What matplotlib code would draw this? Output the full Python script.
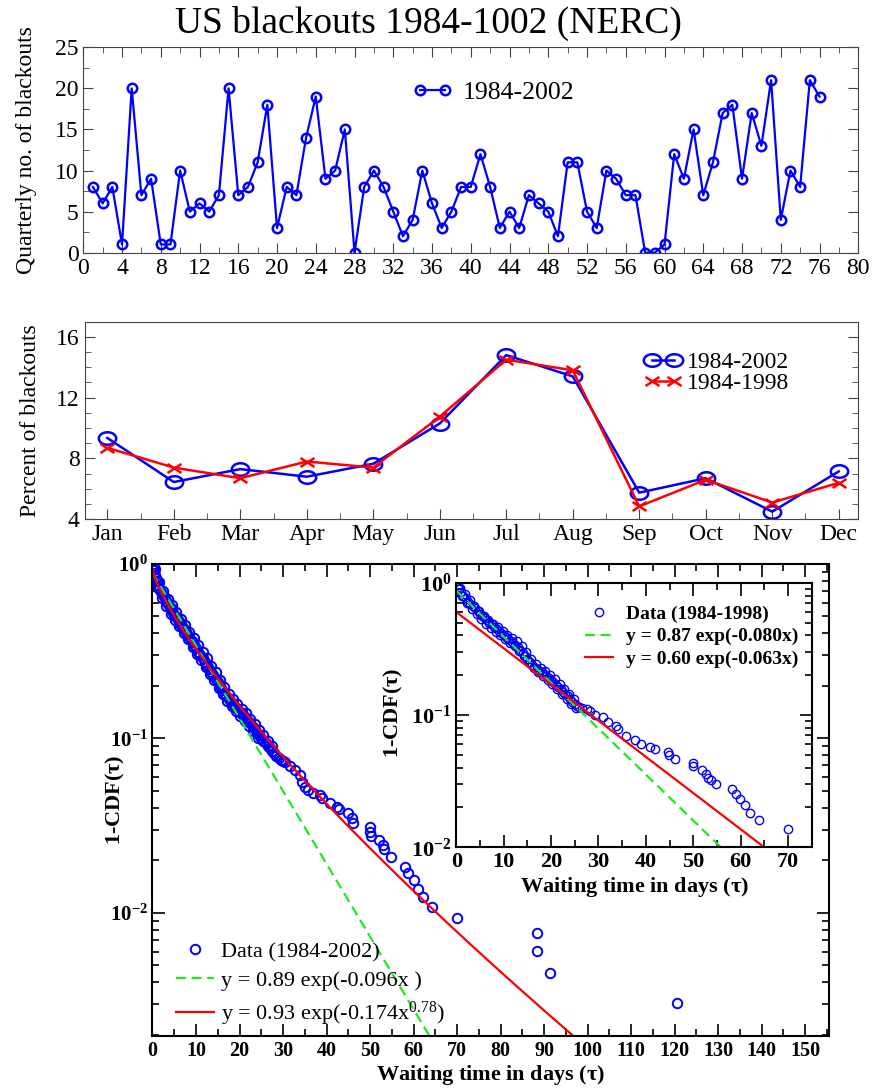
import numpy as np
import matplotlib
matplotlib.use('Agg')
import matplotlib.pyplot as plt
from matplotlib.path import Path
from matplotlib.ticker import MultipleLocator, FuncFormatter, NullFormatter, LogLocator

plt.rcParams['font.family'] = ['Liberation Serif', 'DejaVu Serif']
plt.rcParams['mathtext.fontset'] = 'custom'
plt.rcParams['mathtext.rm'] = 'Liberation Serif'
plt.rcParams['mathtext.it'] = 'Liberation Serif:italic'
plt.rcParams['mathtext.bf'] = 'Liberation Serif:bold'

# quarterly counts 1984-2002
quarters = list(range(1, 77))
quarterly_counts = [8, 6, 8, 1, 20, 7, 9, 1, 1, 10, 5, 6, 5, 7, 20, 7, 8, 11, 18, 3,
                    8, 7, 14, 19, 9, 10, 15, 0, 8, 10, 8, 5, 2, 4, 10, 6, 3, 5, 8, 8,
                    12, 8, 3, 5, 3, 7, 6, 5, 2, 11, 11, 5, 3, 10, 9, 7, 7, 0, 0, 1,
                    12, 9, 15, 7, 11, 17, 18, 9, 17, 13, 21, 4, 10, 8, 21, 19]

# monthly percentages
months = ['Jan', 'Feb', 'Mar', 'Apr', 'May', 'Jun', 'Jul', 'Aug', 'Sep', 'Oct', 'Nov', 'Dec']
pct_1984_2002 = [9.35, 6.45, 7.3, 6.8, 7.65, 10.3, 14.8, 13.4, 5.75, 6.7, 4.5, 7.15]
pct_1984_1998 = [8.7, 7.4, 6.7, 7.8, 7.4, 10.75, 14.5, 13.8, 4.85, 6.6, 5.1, 6.4]

# waiting time distribution 1984-2002 (band centre, then tail)
wait_2002 = [0.2, 0.4, 0.6, 0.8, 1.0, 1.3, 1.6, 2.0, 2.4, 2.8, 3.2, 3.6, 4.0, 4.4, 4.8,
             5.2, 5.6, 6.0, 6.4, 6.8, 7.2, 7.6, 8.0, 8.4, 8.8, 9.2, 9.6, 10.0, 10.5, 11.0,
             11.5, 12.0, 12.5, 13.0, 13.5, 14.0, 14.5, 15.0, 15.5, 16.0, 16.5, 17.0, 17.5,
             18.0, 18.5, 19.0, 19.5, 20.0, 20.5, 21.0, 21.5, 22.0, 22.5, 23.0, 23.5, 24.0,
             24.5, 25.0, 25.5, 26.0, 26.5, 27.0, 27.5, 28.0, 28.5, 29.0, 29.5, 30.0,
             30.5, 31.6, 32.8, 33.9, 34.3, 35.1, 35.8, 36.9, 38.5, 38.9, 40.8, 42.3, 42.9,
             45.0, 45.8, 46.2, 50.0, 50.0, 50.2, 52.1, 52.9, 53.2, 54.9, 58.0, 58.8, 60.0,
             61.1, 62.1, 64.2, 69.9, 88.3, 88.3, 91.4, 120.5]
cdf_2002 = [0.92, 0.89, 0.86, 0.83, 0.80, 0.76, 0.73, 0.69, 0.665, 0.64, 0.61, 0.59, 0.57,
            0.55, 0.525, 0.505, 0.49, 0.47, 0.455, 0.44, 0.425, 0.41, 0.395, 0.38, 0.365,
            0.355, 0.345, 0.33, 0.315, 0.30, 0.29, 0.275, 0.265, 0.25, 0.24, 0.23, 0.22,
            0.21, 0.20, 0.19, 0.183, 0.175, 0.168, 0.162, 0.157, 0.152, 0.147, 0.142,
            0.138, 0.134, 0.13, 0.126, 0.122, 0.117, 0.113, 0.108, 0.104, 0.100, 0.097,
            0.094, 0.091, 0.088, 0.085, 0.082, 0.079, 0.077, 0.075, 0.074,
            0.0736, 0.0699, 0.066, 0.0617, 0.0565, 0.053, 0.0507, 0.049, 0.0474, 0.0454,
            0.0425, 0.0405, 0.0393, 0.0372, 0.0349, 0.0327, 0.0312, 0.0292, 0.0276,
            0.0262, 0.0245, 0.0232, 0.021, 0.0184, 0.0169, 0.0155, 0.0138, 0.0123,
            0.0108, 0.0093, 0.00765, 0.00608, 0.00455, 0.00304]
# points on the upper and lower edges of the dense band
wait_2002_edge = [0.1, 0.3, 0.5, 1.5, 2.5, 3.5, 4.5, 5.5, 6.5, 7.5, 8.5, 9.5, 10.5, 11.5,
                  12.5, 13.5, 14.5, 15.5, 16.5, 17.5, 18.5, 19.5, 20.5, 21.5, 22.5, 23.5,
                  24.5, 25.5, 26.5, 27.5,
                  1.2, 2.2, 3.2, 4.2, 5.2, 6.2, 7.2, 8.2, 9.2, 10.2, 11.2, 12.2, 13.2,
                  14.2, 15.2, 16.2, 17.2, 18.2, 19.2, 20.2, 21.2, 22.2, 23.2, 24.2]
cdf_2002_edge = [0.97, 0.95, 0.93, 0.79, 0.70, 0.63, 0.58, 0.53, 0.485, 0.445, 0.41, 0.375,
                 0.345, 0.315, 0.29, 0.26, 0.24, 0.215, 0.197, 0.18, 0.168, 0.157, 0.147,
                 0.139, 0.13, 0.121, 0.112, 0.104, 0.097, 0.091,
                 0.73, 0.64, 0.575, 0.52, 0.475, 0.44, 0.40, 0.37, 0.335, 0.305, 0.28,
                 0.258, 0.235, 0.215, 0.195, 0.18, 0.165, 0.153, 0.143, 0.134, 0.126,
                 0.118, 0.11, 0.101]

# waiting time distribution 1984-1998 (inset)
wait_1998 = [0.3, 0.6, 1.0, 1.5, 2.0, 2.5, 3.0, 3.5, 4.0, 4.5, 5.0, 5.5, 6.0, 6.5, 7.0,
             7.5, 8.0, 8.5, 9.0, 9.5, 10.0, 10.5, 11.0, 11.5, 12.0, 12.5, 13.0, 13.5,
             14.0, 14.5, 15.0, 15.5, 16.0, 16.5, 17.0, 17.5, 18.0, 18.5, 19.0, 19.5,
             20.0, 20.5, 21.0, 21.5, 22.0, 22.5, 23.0, 23.5, 24.0, 24.5, 25.0, 25.5,
             26.0, 26.5, 27.5, 28.2, 29.2, 30.9, 32.0, 33.8, 34.2, 35.9, 37.7, 38.9,
             40.8, 41.9, 44.7, 44.9, 46.1, 50.0, 50.0, 51.9, 52.8, 53.1, 53.8, 54.9,
             58.1, 59.0, 59.8, 60.9, 61.9, 63.9, 69.9]
cdf_1998 = [0.93, 0.89, 0.85, 0.80, 0.76, 0.72, 0.69, 0.665, 0.64, 0.61, 0.585, 0.56,
            0.54, 0.52, 0.50, 0.485, 0.465, 0.45, 0.435, 0.42, 0.405, 0.39, 0.375, 0.36,
            0.35, 0.34, 0.325, 0.31, 0.295, 0.28, 0.265, 0.25, 0.24, 0.232, 0.224,
            0.216, 0.21, 0.203, 0.197, 0.19, 0.183, 0.177, 0.17, 0.163, 0.157, 0.15,
            0.144, 0.138, 0.132, 0.126, 0.121, 0.117, 0.114, 0.112, 0.111, 0.1066,
            0.1007, 0.0963, 0.0878, 0.083, 0.0785, 0.069, 0.0648, 0.0604, 0.0577,
            0.055, 0.0525, 0.0495, 0.0467, 0.0437, 0.0411, 0.0385, 0.036, 0.0336,
            0.0321, 0.0299, 0.0275, 0.0253, 0.023, 0.0207, 0.0183, 0.016, 0.0138]
wait_1998_edge = [0.8, 1.8, 2.8, 3.8, 4.8, 5.8, 6.8, 7.8, 8.8, 9.8, 10.8, 11.8, 12.8, 13.8,
                  14.8, 15.8, 16.8, 17.8, 18.8, 19.8, 20.8, 21.8, 22.8, 23.8, 24.8,
                  1.3, 2.3, 3.3, 4.3, 5.3, 6.3, 7.3, 8.3, 9.3, 10.3, 11.3, 12.3, 13.3,
                  14.3, 15.3, 16.3, 17.3, 18.3, 19.3, 20.3, 21.3, 22.3, 23.3, 24.3, 25.3]
cdf_1998_edge = [0.92, 0.82, 0.74, 0.67, 0.61, 0.565, 0.525, 0.49, 0.46, 0.43, 0.405,
                 0.38, 0.36, 0.33, 0.30, 0.265, 0.245, 0.228, 0.214, 0.20, 0.186, 0.172,
                 0.158, 0.145, 0.133,
                 0.79, 0.70, 0.635, 0.58, 0.53, 0.49, 0.455, 0.425, 0.40, 0.375, 0.35,
                 0.33, 0.305, 0.28, 0.25, 0.228, 0.212, 0.198, 0.185, 0.172, 0.158,
                 0.145, 0.133, 0.122, 0.112]

# fit parameters from the legends
fit_exp_2002 = (0.89, 0.096)
fit_str_2002 = (0.93, 0.174, 0.78)
fit_exp_1998_a = (0.87, 0.080)
fit_exp_1998_b = (0.60, 0.063)

BLUE = '#0000ff'
RED = '#ff0000'
GREEN = '#1ee81e'

t = np.linspace(0, 2 * np.pi, 60)
ellipse = Path(np.column_stack([np.cos(t), 0.72 * np.sin(t)]), closed=True)
xmark = Path([(-1, -0.65), (1, 0.65), (-1, 0.65), (1, -0.65)],
             [Path.MOVETO, Path.LINETO, Path.MOVETO, Path.LINETO])

fig = plt.figure(figsize=(8.82, 10.90), dpi=100)
fig.text(0.486, 0.9697, 'US blackouts 1984-1002 (NERC)', ha='center', va='baseline', fontsize=27)

# --- top panel
ax1 = fig.add_axes([0.0944, 0.7682, 0.8787, 0.1884])
ax1.plot(quarters, quarterly_counts, '-o', color=BLUE, lw=1.6, ms=6.8, mfc='none',
         mew=1.8, label='1984-2002')
ax1.set_xlim(0, 80)
ax1.set_ylim(0, 25)
ax1.xaxis.set_major_locator(MultipleLocator(4))
ax1.xaxis.set_minor_locator(MultipleLocator(2))
ax1.yaxis.set_major_locator(MultipleLocator(5))
ax1.yaxis.set_minor_locator(MultipleLocator(2.5))
ax1.tick_params(which='both', direction='in', top=True, right=True, labelsize=17, color='#444444')
ax1.tick_params(which='major', length=7)
ax1.tick_params(which='minor', length=4)
ax1.set_ylabel('Quarterly no. of blackouts', fontsize=17, va='center')
ax1.yaxis.set_label_coords(-0.073, 0.5)
ax1.legend(loc='center left', bbox_to_anchor=(0.425, 0.778), numpoints=2, handlelength=1.55,
           handletextpad=0.4, frameon=False, fontsize=18.5, borderpad=0, borderaxespad=0)

# --- middle panel
month_pos = list(range(1, 13))
ax2 = fig.add_axes([0.0960, 0.5236, 0.8768, 0.1813])
ax2.plot(month_pos, pct_1984_2002, color=BLUE, lw=1.8, marker=ellipse, ms=12.5, mfc='none',
         mew=1.8, label='1984-2002')
ax2.plot(month_pos, pct_1984_1998, color=RED, lw=1.8, marker=xmark, ms=10, mew=1.8,
         label='1984-1998')
ax2.set_xlim(0.66, 12.29)
ax2.set_ylim(4, 17)
ax2.set_xticks(month_pos)
ax2.set_xticklabels(months)
ax2.xaxis.set_minor_locator(MultipleLocator(0.5))
ax2.yaxis.set_major_locator(MultipleLocator(4))
ax2.yaxis.set_minor_locator(MultipleLocator(1))
ax2.tick_params(which='both', direction='in', right=True, labelsize=17, color='#444444')
ax2.tick_params(which='major', length=7)
ax2.tick_params(which='minor', length=4)
ax2.set_ylabel('Percent of blackouts', fontsize=17, va='center')
ax2.yaxis.set_label_coords(-0.07, 0.5)
ax2.legend(loc='upper left', bbox_to_anchor=(0.725, 0.85), numpoints=2, handlelength=1.5,
           handletextpad=0.25, labelspacing=0.0, frameon=False, fontsize=17,
           borderpad=0, borderaxespad=0)
for ax in (ax1, ax2):
    for s in ax.spines.values():
        s.set_color('#444444')


# --- bottom main panel
def log_fmt(v, p):
    return r'$\mathbf{10^{%d}}$' % int(round(np.log10(v)))


def style_log(ax, xmajor, size):
    ax.set_yscale('log')
    ax.yaxis.set_major_locator(LogLocator(base=10, numticks=10))
    ax.yaxis.set_minor_locator(LogLocator(base=10, subs=np.arange(2, 10), numticks=10))
    ax.yaxis.set_major_formatter(FuncFormatter(log_fmt))
    ax.yaxis.set_minor_formatter(NullFormatter())
    ax.xaxis.set_major_locator(MultipleLocator(xmajor))
    ax.xaxis.set_minor_locator(MultipleLocator(xmajor / 2))
    ax.tick_params(which='both', direction='in', top=True, right=True, labelsize=size, width=1.2)
    ax.tick_params(which='major', length=9)
    ax.tick_params(which='minor', length=5)
    for s in ax.spines.values():
        s.set_linewidth(1.5)


ax3 = fig.add_axes([0.1729, 0.0495, 0.7670, 0.4331])
ax3.plot(wait_2002_edge, cdf_2002_edge, 'o', ls='none', mfc='none', mec=BLUE, ms=6.8, mew=1.4)
ax3.plot(wait_2002, cdf_2002, 'o', ls='none', mfc='none', mec=BLUE, ms=6.8, mew=1.4,
         label='Data (1984-2002)')
xx = np.linspace(0, 160, 500)
ax3.plot(xx, fit_exp_2002[0] * np.exp(-fit_exp_2002[1] * xx), color=GREEN, lw=1.6,
         dashes=(4.5, 2.5), label='y = 0.89 exp(-0.096x )')
ax3.plot(xx, fit_str_2002[0] * np.exp(-fit_str_2002[1] * xx ** fit_str_2002[2]), color=RED,
         lw=1.6, label=r'y = 0.93 exp(-0.174x$^{0.78}$)')
ax3.set_xlim(0, 155.5)
ax3.set_ylim(0.00197, 1.0)
style_log(ax3, 10, 15)
ax3.set_xticks(range(0, 151, 10))
ax3.set_xticklabels([str(v) for v in range(0, 151, 10)], fontweight='bold', fontsize=14.5)
ax3.set_xlabel(r'Waiting time in days ($\mathbf{\tau}$)', fontsize=16, fontweight='bold', va='center')
ax3.xaxis.set_label_coords(0.5, -0.083)
ax3.set_ylabel(r'1-CDF($\mathbf{\tau}$)', fontsize=16, fontweight='bold', va='center')
ax3.yaxis.set_label_coords(-0.055, 0.5)
ax3.legend(loc='upper left', bbox_to_anchor=(0.035, 0.2), numpoints=1, frameon=False,
           fontsize=16, handlelength=1.7, handletextpad=0.3, labelspacing=0.38,
           borderpad=0, borderaxespad=0)

# --- inset
ax4 = fig.add_axes([0.5173, 0.2227, 0.4030, 0.2427])
ax4.plot(wait_1998_edge, cdf_1998_edge, 'o', ls='none', mfc='none', mec=BLUE, ms=6, mew=1.0)
ax4.plot(wait_1998, cdf_1998, 'o', ls='none', mfc='none', mec=BLUE, ms=6, mew=1.0,
         label='Data (1984-1998)')
xi = np.linspace(0, 80, 300)
ax4.plot(xi, fit_exp_1998_a[0] * np.exp(-fit_exp_1998_a[1] * xi), color=GREEN, lw=1.6,
         dashes=(4.5, 2.5), label='y = 0.87 exp(-0.080x)')
ax4.plot(xi, fit_exp_1998_b[0] * np.exp(-fit_exp_1998_b[1] * xi), color=RED, lw=1.6,
         label='y = 0.60 exp(-0.063x)')
ax4.set_xlim(0, 75)
ax4.set_ylim(0.01, 1.0)
style_log(ax4, 10, 16)
ax4.set_xticks(range(0, 71, 10))
ax4.set_xticklabels([str(v) for v in range(0, 71, 10)], fontweight='bold', fontsize=16)
ax4.set_xlabel(r'Waiting time in days ($\mathbf{\tau}$)', fontsize=16, fontweight='bold', va='center')
ax4.xaxis.set_label_coords(0.5, -0.150)
ax4.set_ylabel(r'1-CDF($\mathbf{\tau}$)', fontsize=16, fontweight='bold', va='center')
ax4.yaxis.set_label_coords(-0.178, 0.508)
ax4.legend(loc='upper left', bbox_to_anchor=(0.362, 0.915), numpoints=1, frameon=False,
           prop={'weight': 'bold', 'size': 14}, handlelength=1.45, handletextpad=0.65,
           labelspacing=0.25, borderpad=0, borderaxespad=0)

fig.savefig('out.png', dpi=100)
